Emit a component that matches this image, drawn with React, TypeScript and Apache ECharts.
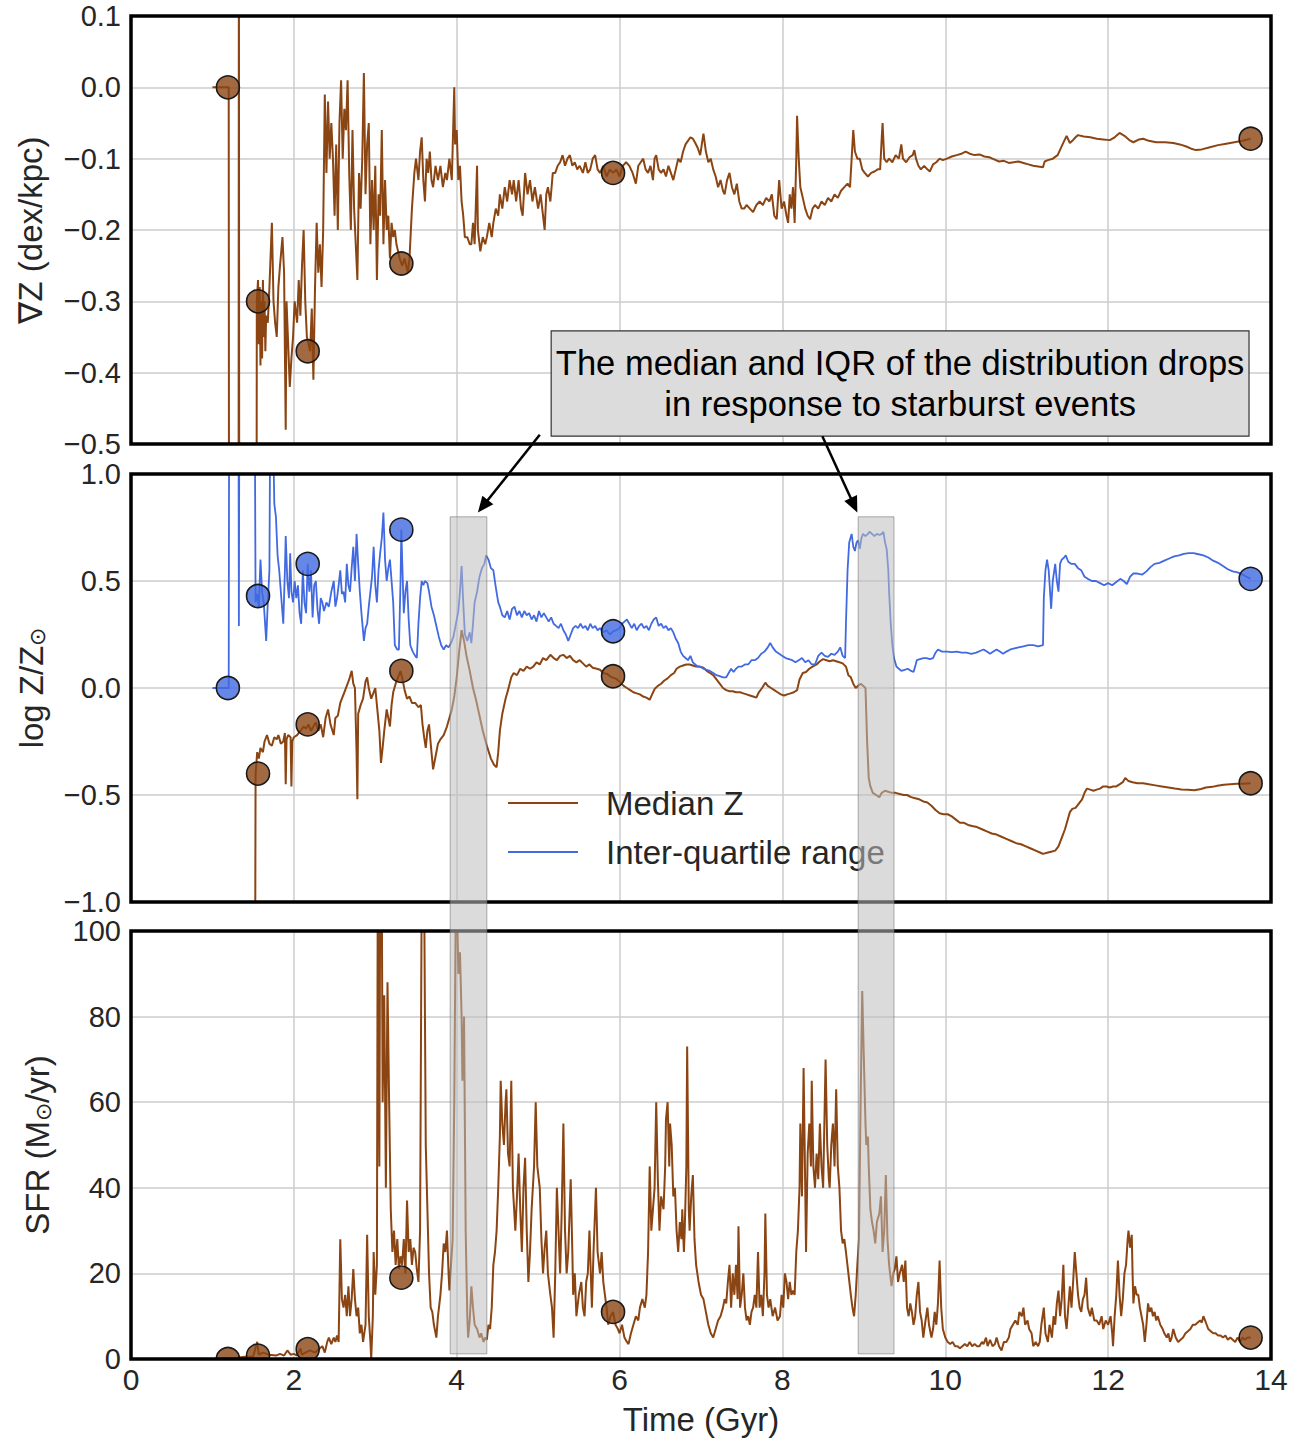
import React, { useEffect, useRef } from "react";
import * as echarts from "echarts";

const BROWN = "#8B4513";
const BLUE = "#4169E1";
const FONT = "Liberation Sans, Arial, Helvetica, sans-serif";
const TXT = "#262626";

// ---------- axis ticks ----------
const xTicks = { min: 0, max: 14, interval: 2 };
const gradTicks = { min: -0.5, max: 0.1, interval: 0.1 };
const logzTicks = { min: -1, max: 1, interval: 0.5 };
const sfrTicks = { min: 0, max: 100, interval: 20 };

// ---------- panel 1: metallicity gradient (dex/kpc) ----------
const gradData: [number, number][] = [
  [1.0, 0], [1.19, 0], [1.2, 0], [1.205, -0.9], [1.32, -0.9], [1.325, 0.3], [1.33, -0.9], [1.54, -0.9], [1.545, -0.3],
  [1.56, -0.27], [1.57, -0.36], [1.58, -0.28], [1.59, -0.39], [1.6, -0.3], [1.61, -0.38], [1.62, -0.27], [1.63, -0.35],
  [1.64, -0.3], [1.65, -0.37], [1.66, -0.32], [1.68, -0.33], [1.7, -0.28], [1.72, -0.22], [1.73, -0.19], [1.75, -0.3],
  [1.77, -0.33], [1.79, -0.35], [1.81, -0.28], [1.83, -0.25], [1.86, -0.21], [1.88, -0.26], [1.9, -0.48], [1.91, -0.3],
  [1.93, -0.36], [1.95, -0.42], [1.97, -0.38], [1.99, -0.35], [2.01, -0.3], [2.04, -0.33], [2.06, -0.27], [2.08, -0.32],
  [2.1, -0.25], [2.12, -0.2], [2.14, -0.3], [2.16, -0.35], [2.18, -0.36], [2.2, -0.37], [2.22, -0.31], [2.24, -0.41],
  [2.26, -0.28], [2.28, -0.19], [2.3, -0.26], [2.32, -0.22], [2.34, -0.28], [2.36, -0.2], [2.38, -0.01], [2.4, -0.12],
  [2.42, -0.02], [2.44, -0.1], [2.46, -0.05], [2.48, -0.1], [2.5, -0.18], [2.52, -0.08], [2.54, -0.2], [2.56, -0.05],
  [2.58, 0.01], [2.6, -0.1], [2.62, -0.03], [2.64, -0.06], [2.66, 0.01], [2.68, -0.12], [2.7, -0.2], [2.72, -0.06],
  [2.74, -0.17], [2.76, -0.22], [2.78, -0.27], [2.8, -0.12], [2.82, -0.17], [2.84, -0.1], [2.86, 0.02], [2.88, -0.15],
  [2.9, -0.08], [2.92, -0.05], [2.94, -0.22], [2.96, -0.13], [2.98, -0.2], [3.0, -0.11], [3.02, -0.27], [3.04, -0.15],
  [3.06, -0.18], [3.08, -0.06], [3.1, -0.22], [3.12, -0.13], [3.14, -0.2], [3.16, -0.18], [3.18, -0.24], [3.2, -0.19],
  [3.22, -0.21], [3.24, -0.2], [3.26, -0.22], [3.28, -0.23], [3.3, -0.24], [3.33, -0.25], [3.36, -0.24], [3.4, -0.26],
  [3.42, -0.24], [3.45, -0.17], [3.48, -0.12], [3.5, -0.1], [3.53, -0.13], [3.55, -0.09], [3.57, -0.07], [3.59, -0.13],
  [3.61, -0.16], [3.63, -0.1], [3.65, -0.12], [3.67, -0.09], [3.69, -0.13], [3.71, -0.14], [3.74, -0.11], [3.77, -0.13],
  [3.8, -0.11], [3.83, -0.14], [3.86, -0.12], [3.88, -0.13], [3.91, -0.1], [3.94, -0.13], [3.97, 0.0], [3.98, -0.08],
  [4.0, -0.06], [4.02, -0.13], [4.04, -0.11], [4.06, -0.16], [4.08, -0.18], [4.1, -0.21], [4.13, -0.21], [4.16, -0.22],
  [4.18, -0.22], [4.2, -0.19], [4.22, -0.22], [4.25, -0.11], [4.26, -0.2], [4.29, -0.23], [4.32, -0.21], [4.35, -0.22],
  [4.37, -0.21], [4.4, -0.19], [4.43, -0.21], [4.45, -0.19], [4.48, -0.17], [4.51, -0.18], [4.53, -0.15], [4.56, -0.17],
  [4.59, -0.14], [4.62, -0.16], [4.65, -0.13], [4.68, -0.15], [4.7, -0.13], [4.73, -0.16], [4.76, -0.13], [4.79, -0.17],
  [4.81, -0.18], [4.84, -0.12], [4.87, -0.15], [4.9, -0.13], [4.93, -0.16], [4.96, -0.14], [5.0, -0.17], [5.03, -0.15],
  [5.06, -0.18], [5.08, -0.2], [5.1, -0.15], [5.12, -0.14], [5.15, -0.16], [5.18, -0.12], [5.21, -0.12], [5.24, -0.11],
  [5.27, -0.105], [5.3, -0.095], [5.33, -0.11], [5.36, -0.1], [5.39, -0.095], [5.42, -0.11], [5.45, -0.105], [5.48, -0.115],
  [5.51, -0.11], [5.55, -0.12], [5.58, -0.105], [5.61, -0.12], [5.64, -0.115], [5.67, -0.1], [5.7, -0.095], [5.73, -0.115],
  [5.76, -0.12], [5.8, -0.11], [5.84, -0.125], [5.88, -0.115], [5.92, -0.12], [5.96, -0.115], [6.0, -0.125], [6.04, -0.11],
  [6.08, -0.105], [6.12, -0.11], [6.16, -0.12], [6.2, -0.135], [6.23, -0.11], [6.26, -0.105], [6.29, -0.1], [6.32, -0.115],
  [6.35, -0.12], [6.38, -0.11], [6.41, -0.13], [6.43, -0.1], [6.45, -0.095], [6.48, -0.115], [6.51, -0.12], [6.54, -0.115],
  [6.57, -0.125], [6.6, -0.11], [6.63, -0.12], [6.66, -0.13], [6.69, -0.115], [6.72, -0.1], [6.75, -0.105], [6.78, -0.09],
  [6.81, -0.08], [6.84, -0.075], [6.87, -0.07], [6.9, -0.072], [6.93, -0.078], [6.96, -0.085], [6.99, -0.095], [7.01, -0.08],
  [7.03, -0.065], [7.06, -0.09], [7.09, -0.105], [7.12, -0.1], [7.15, -0.115], [7.18, -0.125], [7.21, -0.14], [7.24, -0.13],
  [7.27, -0.145], [7.29, -0.15], [7.32, -0.13], [7.35, -0.12], [7.38, -0.14], [7.41, -0.15], [7.44, -0.135], [7.47, -0.16],
  [7.5, -0.17], [7.53, -0.17], [7.56, -0.165], [7.6, -0.17], [7.64, -0.175], [7.68, -0.165], [7.72, -0.16], [7.76, -0.165],
  [7.8, -0.155], [7.84, -0.16], [7.87, -0.15], [7.9, -0.18], [7.93, -0.185], [7.96, -0.13], [7.99, -0.17], [8.02, -0.16],
  [8.05, -0.18], [8.07, -0.19], [8.09, -0.15], [8.11, -0.17], [8.13, -0.14], [8.15, -0.19], [8.17, -0.1], [8.18, -0.04],
  [8.2, -0.1], [8.22, -0.14], [8.25, -0.155], [8.28, -0.17], [8.31, -0.18], [8.34, -0.185], [8.37, -0.17], [8.4, -0.165],
  [8.44, -0.17], [8.48, -0.16], [8.52, -0.165], [8.56, -0.155], [8.6, -0.16], [8.64, -0.15], [8.68, -0.155], [8.72, -0.145],
  [8.76, -0.14], [8.8, -0.135], [8.83, -0.14], [8.85, -0.1], [8.87, -0.06], [8.89, -0.09], [8.92, -0.1], [8.95, -0.1],
  [8.98, -0.115], [9.01, -0.12], [9.05, -0.125], [9.09, -0.12], [9.13, -0.118], [9.17, -0.115], [9.2, -0.115], [9.22, -0.07],
  [9.23, -0.05], [9.25, -0.1], [9.28, -0.105], [9.31, -0.1], [9.35, -0.105], [9.39, -0.095], [9.43, -0.1], [9.46, -0.08],
  [9.48, -0.1], [9.52, -0.105], [9.56, -0.098], [9.6, -0.095], [9.62, -0.088], [9.64, -0.1], [9.67, -0.11], [9.7, -0.115],
  [9.74, -0.11], [9.78, -0.115], [9.81, -0.118], [9.85, -0.108], [9.89, -0.105], [9.93, -0.1], [9.97, -0.102], [10.02, -0.1],
  [10.08, -0.097], [10.14, -0.095], [10.2, -0.093], [10.25, -0.09], [10.3, -0.093], [10.36, -0.095], [10.42, -0.094],
  [10.48, -0.097], [10.54, -0.098], [10.6, -0.101], [10.66, -0.104], [10.72, -0.103], [10.78, -0.106], [10.84, -0.105],
  [10.9, -0.104], [10.96, -0.106], [11.02, -0.108], [11.08, -0.11], [11.14, -0.111], [11.2, -0.112], [11.22, -0.104],
  [11.26, -0.102], [11.32, -0.1], [11.38, -0.095], [11.44, -0.08], [11.49, -0.068], [11.53, -0.078], [11.56, -0.075],
  [11.6, -0.07], [11.63, -0.067], [11.7, -0.069], [11.78, -0.07], [11.86, -0.072], [11.94, -0.073], [12.02, -0.074],
  [12.08, -0.07], [12.14, -0.064], [12.2, -0.068], [12.26, -0.074], [12.31, -0.077], [12.38, -0.073], [12.43, -0.072],
  [12.5, -0.075], [12.59, -0.077], [12.7, -0.077], [12.8, -0.078], [12.88, -0.08], [12.96, -0.083], [13.02, -0.086],
  [13.08, -0.088], [13.15, -0.087], [13.25, -0.084], [13.35, -0.081], [13.45, -0.079], [13.55, -0.077], [13.65, -0.075],
  [13.75, -0.072],
];

// ---------- panel 2: median log Z/Zsun ----------
const medianData: [number, number][] = [
  [1.525, -1.2], [1.53, -0.4], [1.55, -0.3], [1.57, -0.33], [1.59, -0.28], [1.62, -0.3], [1.64, -0.25], [1.67, -0.22],
  [1.7, -0.26], [1.73, -0.27], [1.76, -0.23], [1.79, -0.24], [1.81, -0.22], [1.84, -0.26], [1.87, -0.25], [1.89, -0.21],
  [1.9, -0.45], [1.91, -0.24], [1.93, -0.22], [1.96, -0.23], [1.97, -0.46], [1.98, -0.25], [2.0, -0.23], [2.04, -0.22],
  [2.08, -0.2], [2.12, -0.18], [2.15, -0.19], [2.18, -0.17], [2.21, -0.2], [2.24, -0.18], [2.27, -0.16], [2.3, -0.2],
  [2.33, -0.17], [2.36, -0.23], [2.39, -0.14], [2.42, -0.1], [2.45, -0.17], [2.49, -0.22], [2.51, -0.14], [2.54, -0.13],
  [2.57, -0.07], [2.59, -0.05], [2.62, -0.02], [2.65, 0.01], [2.68, 0.04], [2.71, 0.08], [2.73, 0.02], [2.75, 0.0],
  [2.77, -0.3], [2.78, -0.52], [2.79, -0.12], [2.82, -0.08], [2.85, -0.05], [2.88, 0.03], [2.9, 0.05], [2.92, 0.0],
  [2.95, -0.05], [2.98, -0.02], [3.0, 0.0], [3.03, -0.12], [3.05, -0.2], [3.07, -0.35], [3.09, -0.28], [3.11, -0.2],
  [3.14, -0.1], [3.16, -0.14], [3.18, -0.18], [3.2, -0.08], [3.22, -0.02], [3.25, 0.02], [3.28, 0.05], [3.31, 0.08],
  [3.34, 0.03], [3.36, -0.01], [3.39, -0.05], [3.42, -0.04], [3.45, -0.07], [3.49, -0.07], [3.53, -0.09], [3.56, -0.08],
  [3.58, -0.17], [3.6, -0.23], [3.62, -0.28], [3.64, -0.2], [3.66, -0.17], [3.69, -0.3], [3.71, -0.38], [3.74, -0.32],
  [3.77, -0.26], [3.8, -0.24], [3.84, -0.22], [3.88, -0.18], [3.91, -0.14], [3.94, -0.1], [3.97, -0.04], [4.0, 0.05],
  [4.03, 0.17], [4.06, 0.27], [4.09, 0.22], [4.12, 0.15], [4.16, 0.08], [4.2, 0.0], [4.24, -0.06], [4.28, -0.13],
  [4.32, -0.2], [4.37, -0.27], [4.42, -0.33], [4.46, -0.36], [4.49, -0.37], [4.51, -0.3], [4.53, -0.2], [4.56, -0.12],
  [4.6, -0.05], [4.63, -0.01], [4.67, 0.05], [4.7, 0.07], [4.74, 0.06], [4.78, 0.09], [4.82, 0.08], [4.86, 0.1],
  [4.9, 0.09], [4.94, 0.1], [4.98, 0.12], [5.02, 0.11], [5.06, 0.14], [5.1, 0.13], [5.15, 0.155], [5.19, 0.14],
  [5.23, 0.13], [5.27, 0.15], [5.31, 0.155], [5.35, 0.14], [5.39, 0.15], [5.43, 0.13], [5.47, 0.12], [5.51, 0.13],
  [5.55, 0.115], [5.59, 0.1], [5.63, 0.11], [5.67, 0.095], [5.72, 0.09], [5.76, 0.085], [5.8, 0.07], [5.85, 0.065],
  [5.9, 0.05], [5.95, 0.045], [6.0, 0.03], [6.05, 0.01], [6.09, 0.0], [6.13, -0.01], [6.17, -0.02], [6.21, -0.025],
  [6.25, -0.03], [6.29, -0.04], [6.33, -0.045], [6.37, -0.055], [6.4, -0.03], [6.43, -0.005], [6.47, 0.01], [6.51, 0.02],
  [6.55, 0.035], [6.59, 0.045], [6.63, 0.06], [6.67, 0.07], [6.7, 0.09], [6.74, 0.1], [6.78, 0.105], [6.82, 0.11],
  [6.86, 0.11], [6.9, 0.105], [6.94, 0.1], [6.98, 0.1], [7.03, 0.095], [7.07, 0.08], [7.11, 0.07], [7.15, 0.06],
  [7.19, 0.04], [7.23, 0.02], [7.27, 0.0], [7.31, -0.01], [7.35, -0.015], [7.39, -0.015], [7.43, -0.02], [7.48, -0.02],
  [7.52, -0.025], [7.56, -0.03], [7.6, -0.035], [7.64, -0.04], [7.68, -0.045], [7.71, -0.02], [7.75, 0.0], [7.79, 0.025],
  [7.82, 0.01], [7.86, 0.0], [7.9, -0.01], [7.94, -0.02], [7.98, -0.03], [8.02, -0.035], [8.06, -0.03], [8.1, -0.025],
  [8.14, -0.02], [8.18, -0.01], [8.21, 0.04], [8.25, 0.07], [8.29, 0.075], [8.33, 0.09], [8.37, 0.1], [8.42, 0.11],
  [8.46, 0.125], [8.5, 0.135], [8.54, 0.13], [8.58, 0.125], [8.62, 0.13], [8.66, 0.125], [8.7, 0.12], [8.74, 0.115],
  [8.78, 0.1], [8.81, 0.06], [8.84, 0.05], [8.87, 0.02], [8.9, 0.0], [8.93, 0.01], [8.96, 0.02], [8.99, 0.01],
  [9.02, 0.0], [9.04, -0.25], [9.06, -0.42], [9.08, -0.46], [9.11, -0.49], [9.15, -0.5], [9.19, -0.51], [9.22, -0.49],
  [9.26, -0.48], [9.3, -0.485], [9.34, -0.49], [9.39, -0.49], [9.44, -0.495], [9.49, -0.5], [9.53, -0.5], [9.58, -0.51],
  [9.63, -0.515], [9.68, -0.52], [9.73, -0.53], [9.78, -0.535], [9.83, -0.55], [9.88, -0.57], [9.93, -0.585], [9.98, -0.59],
  [10.03, -0.59], [10.08, -0.6], [10.13, -0.615], [10.18, -0.63], [10.23, -0.63], [10.28, -0.64], [10.33, -0.645],
  [10.39, -0.65], [10.45, -0.66], [10.51, -0.67], [10.57, -0.68], [10.63, -0.685], [10.69, -0.695], [10.75, -0.705],
  [10.81, -0.715], [10.87, -0.725], [10.93, -0.73], [10.99, -0.74], [11.05, -0.75], [11.11, -0.76], [11.17, -0.77],
  [11.2, -0.775], [11.25, -0.77], [11.3, -0.765], [11.35, -0.76], [11.39, -0.74], [11.43, -0.7], [11.47, -0.66],
  [11.5, -0.62], [11.53, -0.58], [11.56, -0.565], [11.6, -0.56], [11.64, -0.54], [11.68, -0.52], [11.71, -0.49],
  [11.74, -0.47], [11.78, -0.475], [11.82, -0.48], [11.86, -0.475], [11.9, -0.47], [11.94, -0.46], [11.98, -0.46],
  [12.02, -0.465], [12.06, -0.46], [12.1, -0.46], [12.14, -0.45], [12.18, -0.44], [12.21, -0.42], [12.25, -0.435],
  [12.3, -0.44], [12.36, -0.445], [12.43, -0.445], [12.5, -0.45], [12.58, -0.455], [12.66, -0.46], [12.74, -0.465],
  [12.82, -0.47], [12.9, -0.474], [12.98, -0.476], [13.06, -0.478], [13.14, -0.472], [13.2, -0.465], [13.28, -0.462],
  [13.34, -0.457], [13.42, -0.452], [13.5, -0.45], [13.58, -0.448], [13.66, -0.447], [13.75, -0.445],
];

// ---------- panel 2: inter-quartile range ----------
const iqrData: [number, number][] = [
  [1.0, 0], [1.19, 0], [1.2, 0], [1.205, 1.3], [1.32, 1.3], [1.325, 0.29], [1.33, 1.3], [1.52, 1.3], [1.53, 0.4],
  [1.55, 0.44], [1.57, 0.38], [1.59, 0.6], [1.61, 0.45], [1.63, 0.4], [1.66, 0.22], [1.68, 0.4], [1.7, 0.55], [1.71, 1.3],
  [1.74, 1.3], [1.76, 0.86], [1.78, 0.8], [1.8, 0.62], [1.82, 0.55], [1.85, 0.4], [1.87, 0.3], [1.89, 0.55], [1.9, 0.71],
  [1.92, 0.5], [1.94, 0.42], [1.955, 0.63], [1.97, 0.45], [1.99, 0.4], [2.01, 0.5], [2.03, 0.42], [2.05, 0.48],
  [2.07, 0.35], [2.09, 0.3], [2.11, 0.55], [2.13, 0.4], [2.15, 0.35], [2.17, 0.58], [2.19, 0.45], [2.21, 0.55],
  [2.23, 0.33], [2.25, 0.48], [2.27, 0.5], [2.29, 0.37], [2.31, 0.3], [2.33, 0.42], [2.35, 0.4], [2.37, 0.36],
  [2.4, 0.4], [2.43, 0.38], [2.46, 0.45], [2.49, 0.5], [2.51, 0.38], [2.53, 0.42], [2.55, 0.48], [2.57, 0.55],
  [2.59, 0.44], [2.61, 0.45], [2.63, 0.4], [2.65, 0.58], [2.67, 0.48], [2.69, 0.45], [2.71, 0.56], [2.73, 0.66],
  [2.75, 0.5], [2.77, 0.72], [2.79, 0.58], [2.81, 0.45], [2.83, 0.35], [2.86, 0.22], [2.88, 0.28], [2.9, 0.3],
  [2.92, 0.38], [2.94, 0.45], [2.96, 0.52], [2.98, 0.66], [3.0, 0.48], [3.02, 0.4], [3.04, 0.55], [3.06, 0.63],
  [3.08, 0.7], [3.1, 0.82], [3.12, 0.6], [3.14, 0.5], [3.16, 0.56], [3.18, 0.6], [3.2, 0.5], [3.22, 0.4], [3.24, 0.2],
  [3.27, 0.18], [3.29, 0.18], [3.31, 0.5], [3.32, 0.74], [3.33, 0.6], [3.35, 0.35], [3.37, 0.45], [3.39, 0.5],
  [3.41, 0.32], [3.43, 0.2], [3.46, 0.17], [3.49, 0.15], [3.51, 0.14], [3.53, 0.3], [3.55, 0.42], [3.57, 0.5],
  [3.59, 0.48], [3.61, 0.5], [3.64, 0.49], [3.66, 0.45], [3.69, 0.38], [3.72, 0.34], [3.75, 0.29], [3.78, 0.24],
  [3.81, 0.2], [3.84, 0.18], [3.87, 0.2], [3.9, 0.19], [3.93, 0.21], [3.96, 0.24], [3.99, 0.3], [4.02, 0.36],
  [4.04, 0.45], [4.06, 0.57], [4.08, 0.4], [4.1, 0.25], [4.13, 0.22], [4.16, 0.26], [4.18, 0.21], [4.2, 0.3],
  [4.22, 0.4], [4.25, 0.45], [4.28, 0.52], [4.31, 0.56], [4.34, 0.58], [4.36, 0.62], [4.39, 0.6], [4.42, 0.56],
  [4.45, 0.55], [4.48, 0.47], [4.51, 0.4], [4.53, 0.38], [4.56, 0.34], [4.59, 0.33], [4.62, 0.36], [4.65, 0.32],
  [4.68, 0.37], [4.71, 0.38], [4.74, 0.34], [4.77, 0.36], [4.8, 0.33], [4.83, 0.36], [4.86, 0.34], [4.89, 0.35],
  [4.92, 0.32], [4.95, 0.34], [4.98, 0.31], [5.01, 0.36], [5.04, 0.33], [5.07, 0.35], [5.1, 0.33], [5.13, 0.31],
  [5.16, 0.33], [5.19, 0.3], [5.22, 0.29], [5.25, 0.28], [5.28, 0.3], [5.31, 0.27], [5.34, 0.25], [5.37, 0.22],
  [5.4, 0.25], [5.43, 0.28], [5.46, 0.29], [5.49, 0.28], [5.52, 0.3], [5.55, 0.28], [5.58, 0.29], [5.61, 0.27],
  [5.64, 0.3], [5.67, 0.28], [5.7, 0.29], [5.73, 0.27], [5.76, 0.28], [5.8, 0.26], [5.84, 0.27], [5.88, 0.25],
  [5.92, 0.265], [5.96, 0.27], [6.0, 0.28], [6.03, 0.3], [6.06, 0.31], [6.09, 0.32], [6.12, 0.3], [6.15, 0.28],
  [6.18, 0.3], [6.21, 0.27], [6.24, 0.29], [6.27, 0.3], [6.3, 0.28], [6.33, 0.29], [6.36, 0.27], [6.39, 0.3],
  [6.42, 0.32], [6.45, 0.33], [6.48, 0.29], [6.51, 0.3], [6.54, 0.28], [6.57, 0.29], [6.6, 0.27], [6.63, 0.28],
  [6.66, 0.26], [6.69, 0.23], [6.72, 0.21], [6.75, 0.17], [6.78, 0.15], [6.81, 0.14], [6.84, 0.13], [6.87, 0.15],
  [6.9, 0.12], [6.93, 0.11], [6.96, 0.1], [6.99, 0.1], [7.03, 0.09], [7.07, 0.085], [7.11, 0.08], [7.15, 0.07],
  [7.19, 0.06], [7.23, 0.055], [7.27, 0.05], [7.31, 0.05], [7.34, 0.07], [7.37, 0.09], [7.4, 0.075], [7.43, 0.09],
  [7.46, 0.1], [7.5, 0.1], [7.54, 0.11], [7.58, 0.11], [7.62, 0.13], [7.66, 0.13], [7.7, 0.14], [7.74, 0.16],
  [7.78, 0.17], [7.82, 0.19], [7.85, 0.21], [7.88, 0.19], [7.92, 0.17], [7.96, 0.16], [8.0, 0.15], [8.04, 0.14],
  [8.08, 0.135], [8.12, 0.13], [8.16, 0.12], [8.2, 0.13], [8.24, 0.14], [8.28, 0.12], [8.32, 0.13], [8.36, 0.11],
  [8.4, 0.11], [8.44, 0.15], [8.48, 0.165], [8.52, 0.15], [8.56, 0.145], [8.6, 0.16], [8.64, 0.155], [8.68, 0.17],
  [8.71, 0.19], [8.74, 0.15], [8.77, 0.14], [8.78, 0.3], [8.8, 0.55], [8.82, 0.68], [8.85, 0.72], [8.87, 0.66],
  [8.89, 0.64], [8.91, 0.68], [8.93, 0.69], [8.95, 0.65], [8.97, 0.7], [8.99, 0.72], [9.02, 0.71], [9.05, 0.72],
  [9.07, 0.73], [9.1, 0.72], [9.13, 0.71], [9.16, 0.72], [9.19, 0.715], [9.22, 0.72], [9.24, 0.73], [9.26, 0.68],
  [9.28, 0.65], [9.3, 0.55], [9.31, 0.45], [9.33, 0.3], [9.35, 0.2], [9.37, 0.14], [9.4, 0.1], [9.43, 0.09],
  [9.46, 0.08], [9.5, 0.085], [9.54, 0.09], [9.58, 0.08], [9.61, 0.075], [9.63, 0.1], [9.65, 0.13], [9.69, 0.135],
  [9.73, 0.14], [9.77, 0.14], [9.81, 0.135], [9.85, 0.14], [9.88, 0.165], [9.91, 0.18], [9.96, 0.17], [10.02, 0.17],
  [10.08, 0.168], [10.14, 0.17], [10.2, 0.165], [10.26, 0.165], [10.32, 0.16], [10.38, 0.165], [10.44, 0.175],
  [10.47, 0.18], [10.51, 0.17], [10.55, 0.16], [10.59, 0.17], [10.63, 0.18], [10.67, 0.17], [10.71, 0.16],
  [10.75, 0.17], [10.8, 0.18], [10.85, 0.185], [10.9, 0.19], [10.96, 0.195], [11.02, 0.2], [11.08, 0.2], [11.14, 0.195],
  [11.2, 0.2], [11.21, 0.42], [11.23, 0.55], [11.25, 0.6], [11.27, 0.55], [11.3, 0.37], [11.32, 0.5], [11.35, 0.58],
  [11.37, 0.5], [11.39, 0.45], [11.41, 0.58], [11.43, 0.6], [11.46, 0.61], [11.48, 0.62], [11.51, 0.59], [11.55, 0.58],
  [11.59, 0.58], [11.63, 0.56], [11.67, 0.55], [11.71, 0.52], [11.75, 0.51], [11.8, 0.5], [11.85, 0.5], [11.9, 0.49],
  [11.95, 0.48], [12.0, 0.49], [12.05, 0.48], [12.1, 0.495], [12.15, 0.51], [12.19, 0.5], [12.23, 0.485], [12.27, 0.52],
  [12.31, 0.535], [12.36, 0.535], [12.42, 0.53], [12.47, 0.545], [12.52, 0.565], [12.57, 0.58], [12.63, 0.585],
  [12.69, 0.595], [12.75, 0.605], [12.81, 0.615], [12.87, 0.62], [12.93, 0.627], [12.99, 0.63], [13.05, 0.63],
  [13.11, 0.625], [13.17, 0.62], [13.23, 0.61], [13.29, 0.595], [13.35, 0.585], [13.41, 0.57], [13.47, 0.555],
  [13.53, 0.545], [13.59, 0.54], [13.65, 0.53], [13.7, 0.52], [13.75, 0.51],
];

// ---------- panel 3: star formation rate (Msun/yr) ----------
const sfrData: [number, number][] = [
  [1.0, 0], [1.19, 0.2], [1.3, 0.3], [1.4, 0.5], [1.5, 0.6], [1.55, 4], [1.57, 1], [1.62, 1.5], [1.7, 1], [1.78, 0.8],
  [1.83, 1.2], [1.88, 0.8], [1.92, 2], [1.96, 1], [2.0, 1.2], [2.04, 0.8], [2.08, 2.5], [2.1, 1], [2.14, 1.5], [2.2, 2],
  [2.26, 1.5], [2.32, 2.5], [2.35, 3], [2.38, 1.5], [2.41, 4], [2.43, 5], [2.46, 3.5], [2.49, 5], [2.51, 4], [2.53, 5.5],
  [2.55, 4], [2.57, 28], [2.59, 14], [2.61, 12], [2.63, 15], [2.65, 10], [2.67, 17], [2.69, 10], [2.71, 14], [2.73, 21],
  [2.75, 14], [2.77, 10], [2.79, 12], [2.81, 6], [2.83, 8], [2.85, 4], [2.88, 8], [2.9, 29], [2.92, 10], [2.94, 4],
  [2.95, 0], [2.97, 10], [2.98, 25], [3.0, 15], [3.02, 22], [3.03, 110], [3.05, 45], [3.06, 110], [3.08, 110],
  [3.09, 60], [3.11, 85], [3.13, 40], [3.15, 88], [3.17, 60], [3.19, 35], [3.21, 25], [3.23, 30], [3.25, 22], [3.27, 28],
  [3.29, 21], [3.31, 24], [3.33, 22], [3.35, 28], [3.37, 20], [3.39, 37], [3.41, 25], [3.43, 28], [3.45, 22], [3.47, 26],
  [3.49, 25], [3.51, 21], [3.53, 18], [3.55, 30], [3.57, 110], [3.6, 110], [3.62, 50], [3.64, 35], [3.66, 20],
  [3.68, 12], [3.7, 11], [3.72, 8], [3.75, 5], [3.77, 10], [3.8, 15], [3.82, 20], [3.84, 27], [3.86, 25], [3.88, 30],
  [3.9, 20], [3.91, 16], [3.93, 22], [3.95, 28], [3.97, 60], [3.99, 110], [4.01, 100], [4.02, 90], [4.04, 95],
  [4.06, 80], [4.07, 65], [4.09, 80], [4.1, 55], [4.11, 30], [4.13, 10], [4.14, 5], [4.16, 9], [4.18, 17], [4.2, 12],
  [4.22, 8], [4.25, 7], [4.28, 5], [4.3, 6], [4.33, 4], [4.35, 5], [4.37, 4.5], [4.39, 8], [4.41, 7], [4.43, 12],
  [4.45, 22], [4.47, 25], [4.49, 30], [4.51, 40], [4.53, 52], [4.54, 65], [4.56, 55], [4.58, 50], [4.6, 60], [4.61, 63],
  [4.63, 48], [4.65, 45], [4.67, 65], [4.69, 40], [4.72, 30], [4.74, 38], [4.76, 48], [4.78, 35], [4.8, 25], [4.82, 40],
  [4.84, 47], [4.86, 30], [4.88, 18], [4.9, 25], [4.92, 35], [4.95, 45], [4.97, 60], [4.99, 45], [5.02, 40], [5.04, 28],
  [5.06, 20], [5.08, 26], [5.1, 30], [5.12, 20], [5.15, 15], [5.17, 12], [5.19, 5], [5.21, 20], [5.23, 40], [5.25, 30],
  [5.27, 20], [5.29, 35], [5.31, 55], [5.33, 30], [5.35, 20], [5.37, 25], [5.4, 42], [5.42, 25], [5.43, 15], [5.45, 20],
  [5.47, 10], [5.5, 15], [5.53, 18], [5.55, 12], [5.57, 10], [5.59, 18], [5.61, 20], [5.63, 30], [5.65, 18], [5.66, 12],
  [5.68, 25], [5.71, 40], [5.73, 25], [5.76, 20], [5.78, 25], [5.8, 18], [5.82, 15], [5.84, 12], [5.86, 8], [5.89, 10],
  [5.92, 11], [5.95, 8], [5.98, 7], [6.0, 6], [6.03, 8], [6.06, 5], [6.09, 4], [6.11, 3.5], [6.14, 6], [6.17, 8],
  [6.2, 10], [6.23, 9], [6.25, 12], [6.28, 14], [6.31, 12], [6.33, 15], [6.35, 25], [6.37, 45], [6.39, 30], [6.41, 35],
  [6.43, 40], [6.45, 60], [6.47, 42], [6.49, 30], [6.51, 38], [6.54, 35], [6.56, 45], [6.57, 56], [6.59, 60], [6.61, 45],
  [6.62, 55], [6.64, 50], [6.66, 38], [6.68, 40], [6.7, 30], [6.72, 25], [6.74, 32], [6.76, 28], [6.77, 35], [6.79, 25],
  [6.8, 30], [6.82, 45], [6.83, 73], [6.85, 35], [6.86, 30], [6.88, 38], [6.9, 43], [6.92, 28], [6.94, 22], [6.97, 18],
  [7.0, 15], [7.03, 14], [7.06, 11], [7.09, 8], [7.12, 6], [7.15, 5], [7.18, 7], [7.21, 9], [7.24, 10], [7.27, 12],
  [7.29, 14], [7.31, 13], [7.33, 18], [7.35, 22], [7.37, 12], [7.39, 20], [7.41, 15], [7.43, 22], [7.45, 14], [7.46, 31],
  [7.48, 12], [7.5, 15], [7.52, 20], [7.54, 12], [7.56, 9], [7.58, 10], [7.6, 8], [7.62, 11], [7.64, 12], [7.66, 15],
  [7.68, 12], [7.7, 25], [7.72, 12], [7.74, 15], [7.76, 10], [7.78, 20], [7.79, 34], [7.81, 15], [7.83, 12], [7.85, 14],
  [7.88, 10], [7.91, 12], [7.94, 9], [7.97, 10], [7.99, 15], [8.01, 12], [8.03, 20], [8.05, 18], [8.07, 14], [8.09, 18],
  [8.11, 15], [8.13, 16], [8.15, 15], [8.17, 25], [8.19, 30], [8.21, 40], [8.22, 55], [8.24, 38], [8.26, 68], [8.28, 40],
  [8.29, 25], [8.31, 48], [8.33, 55], [8.35, 45], [8.36, 65], [8.38, 45], [8.4, 40], [8.42, 48], [8.44, 42], [8.46, 55],
  [8.48, 45], [8.5, 40], [8.52, 60], [8.53, 70], [8.55, 50], [8.57, 42], [8.58, 40], [8.6, 50], [8.62, 55], [8.64, 45],
  [8.66, 63], [8.68, 45], [8.7, 40], [8.72, 30], [8.74, 27], [8.76, 28], [8.78, 25], [8.81, 20], [8.84, 15], [8.86, 12],
  [8.88, 10], [8.9, 15], [8.92, 22], [8.94, 28], [8.96, 60], [8.98, 86], [9.0, 70], [9.02, 55], [9.03, 50], [9.05, 52],
  [9.06, 45], [9.08, 35], [9.1, 32], [9.12, 30], [9.14, 27], [9.16, 32], [9.19, 34], [9.21, 38], [9.23, 25], [9.25, 30],
  [9.27, 43], [9.29, 28], [9.31, 22], [9.34, 17], [9.36, 20], [9.38, 21], [9.4, 24], [9.42, 18], [9.44, 20], [9.47, 22],
  [9.49, 18], [9.51, 23], [9.53, 12], [9.55, 10], [9.57, 13], [9.59, 11], [9.61, 8], [9.63, 10], [9.65, 15], [9.67, 18],
  [9.69, 11], [9.71, 9], [9.73, 5], [9.75, 8], [9.78, 12], [9.8, 8], [9.83, 5], [9.85, 7], [9.87, 11], [9.89, 8],
  [9.91, 13], [9.93, 23], [9.95, 12], [9.97, 7], [10.0, 5], [10.03, 4], [10.06, 3.5], [10.09, 4], [10.12, 3], [10.15, 3],
  [10.18, 2.5], [10.21, 3], [10.24, 3.5], [10.27, 3], [10.3, 4], [10.33, 3], [10.36, 3.5], [10.39, 3], [10.42, 3],
  [10.45, 4], [10.47, 3.5], [10.5, 5], [10.52, 3], [10.55, 4.5], [10.58, 3], [10.61, 3.5], [10.63, 5], [10.66, 3],
  [10.69, 2], [10.72, 4], [10.75, 4], [10.78, 5], [10.8, 7], [10.83, 8], [10.86, 9], [10.89, 8], [10.91, 11], [10.94, 10],
  [10.96, 12], [10.98, 8], [11.01, 9], [11.03, 7], [11.06, 6], [11.08, 3], [11.11, 4], [11.14, 3], [11.16, 4], [11.18, 8],
  [11.21, 12], [11.23, 6], [11.26, 4], [11.28, 8], [11.31, 5], [11.33, 10], [11.35, 8], [11.37, 13], [11.39, 16],
  [11.41, 10], [11.43, 14], [11.45, 22], [11.47, 10], [11.49, 7], [11.51, 12], [11.53, 17], [11.55, 12], [11.57, 18],
  [11.59, 25], [11.61, 20], [11.63, 15], [11.65, 12], [11.67, 11], [11.69, 14], [11.71, 15], [11.73, 19], [11.75, 12],
  [11.78, 10], [11.8, 12], [11.83, 9], [11.86, 9], [11.89, 8], [11.92, 10], [11.94, 7], [11.97, 9], [12.0, 8],
  [12.03, 10], [12.05, 6], [12.06, 3], [12.08, 10], [12.1, 15], [12.12, 23], [12.14, 15], [12.16, 10], [12.18, 14],
  [12.2, 20], [12.22, 22], [12.24, 28], [12.25, 30], [12.27, 26], [12.29, 29], [12.3, 20], [12.31, 13], [12.33, 17],
  [12.35, 15], [12.37, 15], [12.39, 12], [12.41, 10], [12.43, 8], [12.45, 4], [12.47, 8], [12.49, 13], [12.51, 11],
  [12.53, 12], [12.55, 10], [12.57, 11], [12.59, 9], [12.61, 10], [12.64, 8], [12.67, 7], [12.69, 6], [12.72, 5],
  [12.74, 6], [12.76, 4], [12.78, 5], [12.8, 7], [12.83, 5], [12.86, 4], [12.89, 4.5], [12.92, 5], [12.95, 6],
  [12.98, 6.5], [13.01, 7], [13.04, 8], [13.07, 8], [13.1, 8.5], [13.13, 9], [13.15, 8.5], [13.17, 10], [13.19, 9],
  [13.21, 8], [13.23, 7], [13.26, 6.5], [13.29, 6], [13.32, 6], [13.35, 5.5], [13.38, 5.5], [13.41, 5], [13.44, 5.5],
  [13.47, 4.5], [13.5, 5], [13.53, 4.5], [13.56, 4], [13.59, 5], [13.62, 4], [13.65, 5], [13.68, 4.5], [13.71, 5],
  [13.75, 5],
];

// ---------- snapshot markers ----------
const gradMarkers: [number, number][] = [[1.19, 0.0], [1.56, -0.3], [2.17, -0.37], [3.32, -0.247], [5.92, -0.12], [13.75, -0.072]];
const medianMarkers: [number, number][] = [[1.56, -0.4], [2.17, -0.17], [3.32, 0.08], [5.92, 0.055], [13.75, -0.445]];
const iqrMarkers: [number, number][] = [[1.19, 0.0], [1.56, 0.43], [2.17, 0.58], [3.32, 0.74], [5.92, 0.265], [13.75, 0.51]];
const sfrMarkers: [number, number][] = [[1.19, 0], [1.56, 0.8], [2.17, 2.3], [3.32, 19], [5.92, 11], [13.75, 5]];

// ---------- starburst bands (Gyr) and annotation ----------
const starburstBands: [number, number][] = [[3.92, 4.37], [8.93, 9.37]];
const bandTopLogZ = 0.8;
const bandBottomSfr = 1.2;
const noteLines = ["The median and IQR of the distribution drops", "in response to starburst events"];
const noteBox = { x0: 5.16, x1: 13.73, yTop: -0.3415, yBottom: -0.489 };
const arrows = [
  { from: [5.02, -0.487], to: [4.26, 0.82] },
  { from: [8.49, -0.489], to: [8.92, 0.82] },
];

const fmt1 = (v: number) => {
  const r = Math.round(v * 10) / 10;
  return (r < 0 ? "\u2212" : "") + Math.abs(r).toFixed(1);
};

const GRID_TOPS = [16, 474, 931];
const MARKER_R = 11.5;

function buildOption(): any {
  const grids = GRID_TOPS.map((top) => ({
    left: 131,
    width: 1140,
    top,
    height: 428,
    show: false,
  }));
  const xAxes = [0, 1, 2].map((i) => ({
    type: "value",
    gridIndex: i,
    ...xTicks,
    axisLine: { show: false },
    axisTick: { show: false },
    splitLine: { show: true, lineStyle: { color: "#cccccc", width: 1.5 } },
    axisLabel: { show: i === 2, fontSize: 30, color: TXT, margin: 8, fontFamily: FONT, lineHeight: 24 },
    name: i === 2 ? "Time (Gyr)" : "",
    nameLocation: "middle",
    nameGap: 44,
    nameTextStyle: { fontSize: 33, color: TXT, fontFamily: FONT },
  }));
  const yBase = {
    type: "value",
    axisLine: { show: false },
    axisTick: { show: false },
    splitLine: { show: true, lineStyle: { color: "#cccccc", width: 1.5 } },
    nameLocation: "middle",
  };
  const nameStyle = {
    fontSize: 33,
    color: TXT,
    fontFamily: FONT,
    rich: { sub: { fontSize: 22, color: TXT, fontFamily: FONT, verticalAlign: "bottom", lineHeight: 16 } },
  };
  const yLabel = { fontSize: 29, color: TXT, margin: 10, fontFamily: FONT, lineHeight: 22 };
  const yAxes = [
    {
      ...yBase, gridIndex: 0, ...gradTicks,
      axisLabel: { ...yLabel, formatter: fmt1 },
      name: "\u2207Z (dex/kpc)", nameGap: 84, nameTextStyle: nameStyle,
    },
    {
      ...yBase, gridIndex: 1, ...logzTicks,
      axisLabel: { ...yLabel, formatter: fmt1 },
      name: "log Z/Z{sub|\u2299}", nameGap: 83, nameTextStyle: nameStyle,
    },
    {
      ...yBase, gridIndex: 2, ...sfrTicks,
      axisLabel: { ...yLabel, formatter: (v: number) => String(Math.round(v)) },
      name: "SFR (M{sub|\u2299}/yr)", nameGap: 77, nameTextStyle: nameStyle,
    },
  ];
  const lineSeries = (name: string, data: any, idx: number, color: string, width: number) => ({
    type: "line", name, data, xAxisIndex: idx, yAxisIndex: idx,
    showSymbol: false, symbol: "none", silent: true, clip: true,
    lineStyle: { color, width }, itemStyle: { color }, z: 2,
  });
  // snapshot circles drawn through the axes' scales, clipped to the plot area
  const markerSeries = (name: string, data: any, idx: number, fill: string) => ({
    type: "custom", name, data, xAxisIndex: idx, yAxisIndex: idx, silent: true, clip: true, z: 3,
    renderItem: (_p: any, api: any) => {
      const c = api.coord([api.value(0), api.value(1)]);
      return {
        type: "circle",
        shape: { cx: c[0], cy: c[1], r: MARKER_R },
        style: { fill, stroke: "#1a1a1a", lineWidth: 1.6 },
      };
    },
  });
  const brownFill = "rgba(139,69,19,0.8)";
  const blueFill = "rgba(65,105,225,0.8)";
  return {
    animation: false,
    backgroundColor: "#ffffff",
    grid: grids,
    xAxis: xAxes,
    yAxis: yAxes,
    legend: {
      data: [
        { name: "Median Z", icon: "rect", itemStyle: { color: BROWN } },
        { name: "Inter-quartile range", icon: "rect", itemStyle: { color: BLUE } },
      ],
      orient: "vertical",
      left: 508,
      top: 786,
      padding: 0,
      itemWidth: 70,
      itemHeight: 2.2,
      itemGap: 15,
      selectedMode: false,
      textStyle: { fontSize: 33, color: TXT, fontFamily: FONT, lineHeight: 34, padding: [0, 0, 0, 23] },
    },
    series: [
      lineSeries("gradient", gradData, 0, BROWN, 2),
      markerSeries("gradient snapshots", gradMarkers, 0, brownFill),
      lineSeries("Median Z", medianData, 1, BROWN, 2),
      lineSeries("Inter-quartile range", iqrData, 1, BLUE, 1.8),
      markerSeries("median snapshots", medianMarkers, 1, brownFill),
      markerSeries("iqr snapshots", iqrMarkers, 1, blueFill),
      lineSeries("sfr", sfrData, 2, BROWN, 2),
      markerSeries("sfr snapshots", sfrMarkers, 2, brownFill),
    ],
  };
}

export default function App() {
  const ref = useRef<HTMLDivElement>(null);
  useEffect(() => {
    document.body.style.margin = "0";
    if (!ref.current) return;
    const chart = echarts.init(ref.current, null, { renderer: "svg" });
    chart.setOption(buildOption());
    const px = (g: number, x: number, y: number) => chart.convertToPixel({ gridIndex: g } as any, [x, y]) as number[];
    const graphics: any[] = [];
    // plot frames (black spines) on top of grid lines
    [0, 1, 2].forEach((g) => {
      const tl = px(g, xTicks.min, [gradTicks, logzTicks, sfrTicks][g].max);
      const br = px(g, xTicks.max, [gradTicks, logzTicks, sfrTicks][g].min);
      graphics.push({
        type: "rect", z: 90, silent: true,
        shape: { x: tl[0], y: tl[1], width: br[0] - tl[0], height: br[1] - tl[1] },
        style: { fill: "none", stroke: "#000", lineWidth: 3.5 },
      });
    });
    starburstBands.forEach(([a, b]) => {
      const p0 = px(1, a, bandTopLogZ);
      const p1 = px(2, b, bandBottomSfr);
      graphics.push({
        type: "rect", z: 100, silent: true,
        shape: { x: p0[0], y: p0[1], width: p1[0] - p0[0], height: p1[1] - p0[1] },
        style: { fill: "rgba(190,190,190,0.55)", stroke: "rgba(110,110,110,0.55)", lineWidth: 1 },
      });
    });
    const b0 = px(0, noteBox.x0, noteBox.yTop);
    const b1 = px(0, noteBox.x1, noteBox.yBottom);
    graphics.push({
      type: "rect", z: 110, silent: true,
      shape: { x: b0[0], y: b0[1], width: b1[0] - b0[0], height: b1[1] - b0[1] },
      style: { fill: "#dcdcdc", stroke: "#333333", lineWidth: 1.2 },
    });
    graphics.push({
      type: "text", z: 111, silent: true,
      x: (b0[0] + b1[0]) / 2, y: (b0[1] + b1[1]) / 2,
      style: {
        text: noteLines.join("\n"), fill: "#000", fontSize: 34.5, fontFamily: FONT,
        lineHeight: 41, align: "center", verticalAlign: "middle",
      },
    });
    arrows.forEach((a) => {
      const s = px(0, a.from[0], a.from[1]);
      const t = px(1, a.to[0], a.to[1]);
      const dx = t[0] - s[0], dy = t[1] - s[1];
      const len = Math.hypot(dx, dy);
      const ux = dx / len, uy = dy / len;
      const hl = 16, hw = 7;
      const bx = t[0] - ux * hl, by = t[1] - uy * hl;
      graphics.push({
        type: "line", z: 112, silent: true,
        shape: { x1: s[0], y1: s[1], x2: bx + ux * 2, y2: by + uy * 2 },
        style: { stroke: "#000", lineWidth: 2.5 },
      });
      graphics.push({
        type: "polygon", z: 112, silent: true,
        shape: { points: [[t[0], t[1]], [bx - uy * hw, by + ux * hw], [bx + uy * hw, by - ux * hw]] },
        style: { fill: "#000" },
      });
    });
    chart.setOption({ graphic: graphics });
    return () => chart.dispose();
  }, []);
  return <div ref={ref} style={{ width: 1314, height: 1444 }} />;
}
